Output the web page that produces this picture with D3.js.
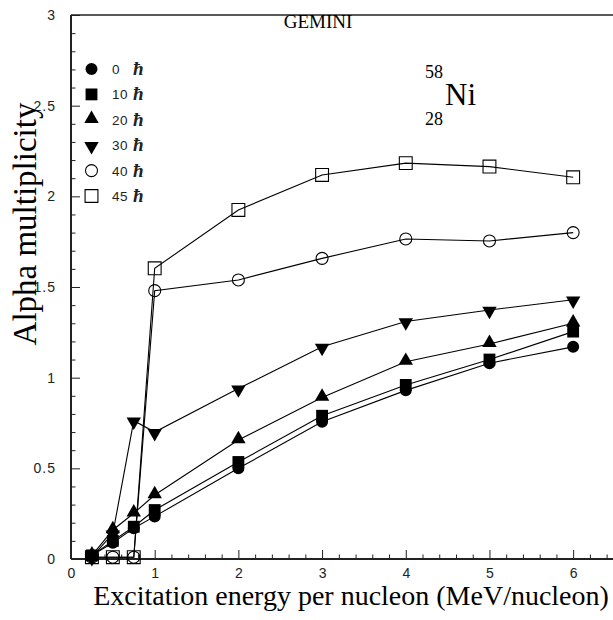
<!DOCTYPE html>
<html>
<head>
<meta charset="utf-8">
<script src="https://cdn.jsdelivr.net/npm/d3@7"></script>
<style>
  html, body { margin: 0; padding: 0; background: #fff; }
  svg { display: block; }
</style>
</head>
<body>
<svg id="chart" width="613" height="620"></svg>
<script>
// ---- data ----
const energies = [0.25, 0.5, 0.75, 1, 2, 3, 4, 5, 6];
const spinLabels = ["0", "10", "20", "30", "40", "45"];
const mult0  = [0.02, 0.09, 0.17, 0.235, 0.50, 0.757, 0.93, 1.08, 1.17];
const mult10 = [0.02, 0.10, 0.178, 0.27, 0.535, 0.79, 0.96, 1.10, 1.254];
const mult20 = [0.02, 0.16, 0.252, 0.353, 0.656, 0.89, 1.088, 1.186, 1.30];
const mult30 = [0.01, 0.14, 0.763, 0.70, 0.94, 1.17, 1.31, 1.373, 1.43];
const mult40 = [0.01, 0.01, 0.01, 1.48, 1.539, 1.658, 1.765, 1.754, 1.80];
const mult45 = [0.01, 0.01, 0.01, 1.603, 1.925, 2.118, 2.183, 2.164, 2.105];
const xMajorTicks = [0, 1, 2, 3, 4, 5, 6];
const yMajorTicks = [0, 0.5, 1, 1.5, 2, 2.5, 3];
const yTickLabels = ["0", "0.5", "1", "1.5", "2", "2.5", "3"];

const seriesValues = [mult0, mult10, mult20, mult30, mult40, mult45];
const markerTypes = ["circle", "square", "up", "down", "ocircle", "osquare"];

// ---- layout ----
const svg = d3.select("#chart");
const x = d3.scaleLinear().domain([0, 6.5]).range([71, 615]);
const y = d3.scaleLinear().domain([0, 3]).range([559, 15]);
const tickFont = "'Liberation Sans', Arial, sans-serif";
const serif = "'Liberation Serif', 'Times New Roman', serif";

function markerPath(type) {
  switch (type) {
    case "circle": case "ocircle": return d3.symbol(d3.symbolCircle, 113)();
    case "square": return d3.symbol(d3.symbolSquare, 140)();
    case "osquare": return d3.symbol(d3.symbolSquare, 165)();
    case "up": case "down": return d3.symbol(d3.symbolTriangle, 90)();
  }
}
function drawMarker(g, type, cx, cy) {
  const open = type === "ocircle" || type === "osquare";
  const rot = type === "down" ? " rotate(180)" : "";
  const dy = type === "up" ? -1 : (type === "down" ? 1 : 0);
  g.append("path")
    .attr("d", markerPath(type))
    .attr("transform", `translate(${cx},${cy + dy})${rot}`)
    .attr("fill", open ? "none" : "#000")
    .attr("stroke", "#000")
    .attr("stroke-width", open ? 1.1 : 0);
}

// ---- axes ----
const xMinor = d3.range(0, 6.41, 0.2).filter(v => Math.abs(v - Math.round(v)) > 1e-6);
const yMinor = d3.range(0, 3.001, 0.1).filter(v => Math.abs(v * 2 - Math.round(v * 2)) > 1e-6);

const axG = svg.append("g");
// minor ticks
axG.append("g").attr("transform", `translate(${x(0)},0)`)
  .call(d3.axisLeft(y).tickValues(yMinor).tickSize(-4.5).tickSizeOuter(0).tickFormat(""))
  .call(g => g.select(".domain").remove());
axG.append("g").attr("transform", `translate(0,${y(0)})`)
  .call(d3.axisBottom(x).tickValues(xMinor).tickSize(-4.5).tickSizeOuter(0).tickFormat(""))
  .call(g => g.select(".domain").remove());
// major ticks with labels
const yAx = axG.append("g").attr("transform", `translate(${x(0)},0)`)
  .call(d3.axisLeft(y).tickValues(yMajorTicks).tickSize(-9).tickSizeOuter(0).tickPadding(15)
    .tickFormat((d, i) => yTickLabels[i]));
yAx.select(".domain").remove();
yAx.selectAll("text").attr("font-family", tickFont).attr("font-size", 14)
  .attr("letter-spacing", "1px").attr("fill", "#222");
const xAx = axG.append("g").attr("transform", `translate(0,${y(0)})`)
  .call(d3.axisBottom(x).tickValues(xMajorTicks).tickSize(-9).tickSizeOuter(0).tickPadding(9)
    .tickFormat(d3.format("d")));
xAx.select(".domain").remove();
xAx.selectAll("text").attr("font-family", tickFont).attr("font-size", 14).attr("fill", "#222");
axG.selectAll(".tick line").attr("stroke", "#222").attr("stroke-width", 1);

// frame lines: left, bottom, top
axG.append("line").attr("x1", x(0)).attr("x2", x(0)).attr("y1", y(3)).attr("y2", y(0))
  .attr("stroke", "#222").attr("stroke-width", 2);
axG.append("line").attr("x1", x(0)).attr("x2", 613).attr("y1", y(0)).attr("y2", y(0))
  .attr("stroke", "#222").attr("stroke-width", 2);
axG.append("line").attr("x1", x(0)).attr("x2", 613).attr("y1", y(3)).attr("y2", y(3))
  .attr("stroke", "#222").attr("stroke-width", 1.6);

// ---- series ----
const line = d3.line().x(d => x(d[0])).y(d => y(d[1]));
const dataG = svg.append("g");
seriesValues.forEach((vals, si) => {
  const pts = energies.map((e, i) => [e, vals[i]]);
  dataG.append("path").attr("d", line(pts)).attr("fill", "none")
    .attr("stroke", "#000").attr("stroke-width", 1.1);
});
seriesValues.forEach((vals, si) => {
  energies.forEach((e, i) => drawMarker(dataG, markerTypes[si], x(e), y(vals[i])));
});

// ---- legend ----
const legG = svg.append("g");
spinLabels.forEach((lab, i) => {
  const ly = 69 + i * 25.4;
  drawMarker(legG, markerTypes[i], 91.5, ly);
  legG.append("text").attr("x", 112).attr("y", ly + 5).text(lab)
    .attr("font-family", tickFont).attr("font-size", 13.5).attr("letter-spacing", "0.5px").attr("fill", "#222");
  legG.append("text").attr("x", 133).attr("y", ly + 6).text("ħ")
    .attr("font-family", serif).attr("font-size", 19).attr("font-style", "italic")
    .attr("font-weight", "bold").attr("fill", "#222");
});

// ---- annotations ----
svg.append("text").attr("x", 318).attr("y", 28).attr("text-anchor", "middle").text("GEMINI")
  .attr("font-family", serif).attr("font-size", 19);
svg.append("text").attr("x", 425).attr("y", 78).text("58")
  .attr("font-family", serif).attr("font-size", 18);
svg.append("text").attr("x", 445).attr("y", 105).text("Ni")
  .attr("font-family", serif).attr("font-size", 31);
svg.append("text").attr("x", 425).attr("y", 125).text("28")
  .attr("font-family", serif).attr("font-size", 18);

// ---- axis titles ----
svg.append("text").attr("x", 351).attr("y", 605).attr("text-anchor", "middle")
  .text("Excitation energy per nucleon (MeV/nucleon)")
  .attr("font-family", serif).attr("font-size", 28);
svg.append("text").attr("transform", "translate(36,224) rotate(-90)").attr("text-anchor", "middle")
  .text("Alpha multiplicity")
  .attr("font-family", serif).attr("font-size", 33);
</script>
</body>
</html>
